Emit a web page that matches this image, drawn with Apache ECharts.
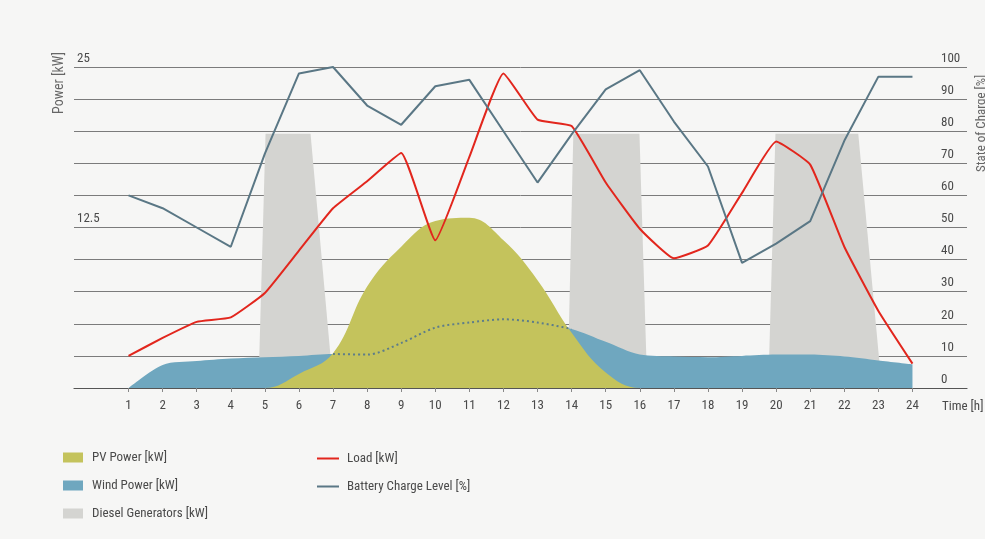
<!DOCTYPE html>
<html>
<head>
<meta charset="utf-8">
<style>
  html, body { margin: 0; padding: 0; background: #f6f6f5; }
  #main { width: 985px; height: 539px; }
</style>
<script src="https://cdn.jsdelivr.net/npm/echarts@6/dist/echarts.min.js"></script>
</head>
<body>
<div id="main"></div>
<script>
// hours of the day (x axis)
const hours = [1, 2, 3, 4, 5, 6, 7, 8, 9, 10, 11, 12, 13, 14, 15, 16, 17, 18, 19, 20, 21, 22, 23, 24]
// kW values
const pvPower = [0, 0, 0, 0, 0, 1.1, 2.7, 7.9, 11, 13, 13.25, 11.5, 8.4, 4.3, 1.2, 0, 0, 0, 0, 0, 0, 0, 0, 0]
const windPower = [0, 1.8, 2.1, 2.3, 2.4, 2.5, 2.65, 2.6, 3.5, 4.7, 5.1, 5.35, 5.1, 4.6, 3.6, 2.6, 2.45, 2.4, 2.5, 2.6, 2.6, 2.45, 2.15, 1.85]
const load = [2.5, 3.9, 5.15, 5.5, 7.4, 10.7, 14, 16.1, 18.3, 11.5, 18, 24.5, 20.9, 20.4, 16, 12.4, 10.1, 11.1, 15.2, 19.2, 17.4, 11, 6, 1.9]
// diesel generator runs: [start, full on, full off, stop] in hours
const dieselRuns = [[4.81, 5.02, 6.34, 7.01], [13.88, 14.05, 15.99, 16.22], [19.77, 19.98, 22.41, 23.1]]
const dieselLevel = 19.8
// battery charge in %
const battery = [60, 56, 50, 44, 73, 98, 100, 88, 82, 94, 96, 80, 64, 79, 93, 99, 83, 69, 39, 45, 52, 77, 97, 97]
// hours where wind is hidden behind PV (dotted)
const windHiddenFrom = 7
const windHiddenTo = 14
const powerTicks = [12.5, 25]

const FONT = "'Roboto Condensed', 'Liberation Sans Narrow', Roboto, sans-serif"
const COLORS = {
  pv: '#c4c35c',
  wind: '#6fa7bf',
  diesel: '#d4d4d1',
  load: '#e2261d',
  battery: '#5a7785',
  grid: '#7b7b7b',
  text: '#4a4a4a',
}

const chart = echarts.init(document.getElementById('main'))

const pair = (arr) => hours.map((h, i) => [h, arr[i]])

const dieselSeries = dieselRuns.map((r) => ({
  name: 'Diesel Generators [kW]',
  type: 'line',
  yAxisIndex: 0,
  symbol: 'none',
  lineStyle: { width: 0 },
  itemStyle: { color: COLORS.diesel },
  areaStyle: { color: COLORS.diesel, opacity: 1 },
  data: [[r[0], 0], [r[1], dieselLevel], [r[2], dieselLevel], [r[3], 0]],
}))

const option = {
  backgroundColor: '#f6f6f5',
  animation: false,
  textStyle: { fontFamily: FONT },
  grid: { left: 74, right: 18, top: 67, bottom: 151 },
  legend: [
    {
      left: 58, top: 446, orient: 'vertical',
      itemWidth: 20, itemHeight: 10, itemGap: 15,
      icon: 'rect',
      textStyle: { color: COLORS.text, fontSize: 13, fontFamily: FONT, padding: [0, 0, 0, 4] },
      data: ['PV Power [kW]', 'Wind Power [kW]', 'Diesel Generators [kW]'],
    },
    {
      left: 312, top: 447, orient: 'vertical',
      itemWidth: 22, itemHeight: 2, itemGap: 15,
      icon: 'rect',
      textStyle: { color: COLORS.text, fontSize: 13, fontFamily: FONT, padding: [0, 0, 0, 3] },
      data: ['Load [kW]', 'Battery Charge Level [%]'],
    },
  ],
  xAxis: {
    type: 'value',
    min: -0.6,
    max: 25.6,
    axisLine: { show: true, lineStyle: { color: '#555', width: 1.2 } },
    axisTick: { show: true, customValues: hours, length: 4, lineStyle: { color: '#888' } },
    axisLabel: { customValues: hours, color: COLORS.text, fontSize: 13, margin: 11, fontFamily: FONT },
    splitLine: { show: false },
  },
  yAxis: [
    {
      type: 'value',
      min: 0,
      max: 25,
      position: 'left',
      axisLine: { show: false },
      axisTick: { show: false },
      splitLine: { show: false },
      axisLabel: {
        customValues: powerTicks,
        inside: true,
        margin: 3,
        verticalAlign: 'bottom',
        padding: [0, 0, 2, 0],
        color: COLORS.text,
        fontSize: 13,
        fontFamily: FONT,
      },
    },
    {
      type: 'value',
      min: 0,
      max: 100,
      interval: 10,
      position: 'right',
      axisLine: { show: false },
      axisTick: { show: false },
      splitLine: { show: true, lineStyle: { color: COLORS.grid, width: 1 } },
      axisLabel: {
        inside: true,
        margin: 26,
        align: 'left',
        verticalAlign: 'bottom',
        padding: [0, 0, 2, 0],
        color: COLORS.text,
        fontSize: 13,
        fontFamily: FONT,
      },
    },
  ],
  graphic: [
    {
      type: 'text', left: 52, top: 52, rotation: Math.PI / 2,
      style: { text: 'Power [kW]', fill: '#666', font: '14px ' + FONT },
    },
    {
      type: 'text', x: 975, y: 172, rotation: Math.PI / 2,
      style: { text: 'State of Charge [%]', fill: '#666', font: '13px ' + FONT },
    },
    {
      type: 'text', left: 942, top: 400,
      style: { text: 'Time [h]', fill: COLORS.text, font: '13px ' + FONT },
    },
  ],
  series: [
    ...dieselSeries,
    {
      name: 'Wind Power [kW]',
      type: 'line',
      yAxisIndex: 0,
      symbol: 'none',
      smooth: 0.3,
      lineStyle: { width: 0 },
      itemStyle: { color: COLORS.wind },
      areaStyle: { color: COLORS.wind, opacity: 1 },
      data: pair(windPower),
    },
    {
      name: 'PV Power [kW]',
      type: 'line',
      yAxisIndex: 0,
      symbol: 'none',
      smooth: 0.4,
      lineStyle: { width: 0 },
      itemStyle: { color: COLORS.pv },
      areaStyle: { color: COLORS.pv, opacity: 1 },
      data: pair(pvPower),
    },
    {
      name: 'wind hidden',
      type: 'line',
      yAxisIndex: 0,
      symbol: 'none',
      smooth: 0.3,
      lineStyle: { color: '#5d7d8a', width: 2, type: [2, 3] },
      data: hours.map((h, i) => (h >= windHiddenFrom && h <= windHiddenTo ? [h, windPower[i]] : [h, null])),
    },
    {
      name: 'Load [kW]',
      type: 'line',
      yAxisIndex: 0,
      symbol: 'none',
      smooth: 0.12,
      lineStyle: { color: COLORS.load, width: 2 },
      itemStyle: { color: COLORS.load },
      data: pair(load),
    },
    {
      name: 'Battery Charge Level [%]',
      type: 'line',
      yAxisIndex: 1,
      symbol: 'none',
      lineStyle: { color: COLORS.battery, width: 2 },
      itemStyle: { color: COLORS.battery },
      data: pair(battery),
    },
  ],
}

option && chart.setOption(option)
</script>
</body>
</html>
